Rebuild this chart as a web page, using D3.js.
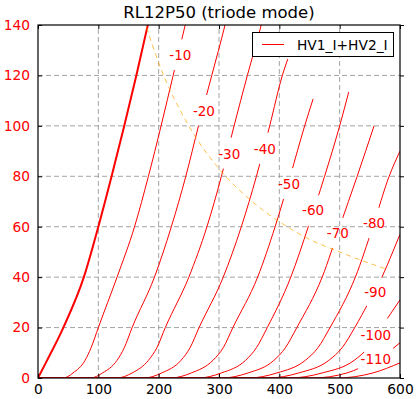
<!DOCTYPE html>
<html>
<head>
<meta charset="utf-8">
<script src="https://cdn.jsdelivr.net/npm/d3@7"></script>
<style>
body { margin: 0; background: #fff; }
text { font-family: "DejaVu Sans", sans-serif; }
</style>
</head>
<body>
<script>
// plate curves: [plate volts, plate mA]
var grids = [0, -10, -20, -30, -40, -50, -60, -70, -80, -90, -100, -110, -120];
var curveG0 = [[0,0],[14,6.5],[42,20],[76,40],[100,60],[122,80],[143,100],[163,120],[182,140],[190,148]];
var curveG10 = [[0,0],[42,0],[58,2],[78,7],[88,12],[100,20],[131,40],[160,60],[183,80],[204,100],[224,120],[244,140],[250,146]];
var curveG20 = [[0,0],[87,0],[107,2],[131,7],[143,12],[156,20],[193,40],[221,60],[245,80],[266,100],[288,120],[310,140],[316,146]];
var curveG30 = [[0,0],[131,0],[156,2],[183,7],[197,12],[211,20],[250,40],[280,60],[304,80],[325,100],[347,120],[370,140],[376,146]];
var curveG40 = [[0,0],[176,0],[205,2],[237,7],[252,12],[267,20],[307,40],[337,60],[362,80],[384,100],[405,120],[414,126.5]];
var curveG50 = [[0,0],[220,0],[254,2],[290,7],[307,12],[323,20],[364,40],[393,60],[418,80],[442,100],[456,110.7]];
var curveG60 = [[0,0],[266,0],[304,2],[344,7],[362,12],[380,20],[419,40],[448,60],[475,80],[500,100],[515,113.4]];
var curveG70 = [[0,0],[305,0],[348,2],[391,7],[410,12],[429,20],[471,40],[500,60],[529,80],[557,100]];
var curveG80 = [[0,0],[349,0],[396,2],[443,7],[464,12],[484,20],[526,40],[555,60],[582,80],[600,90]];
var curveG90 = [[0,0],[382,0],[432,2],[482,7],[504,12],[525,20],[548,30],[570,40],[588,50],[600,57]];
var curveG100 = [[0,0],[417,0],[471,2],[524,7],[547,12],[569,20],[600,31]];
var curveG110 = [[0,0],[455,0],[512,2],[557,7],[590,12],[600,14]];
var curveG120 = [[0,0],[495,0],[555,2],[600,6]];
var curves = [curveG0, curveG10, curveG20, curveG30, curveG40, curveG50, curveG60,
              curveG70, curveG80, curveG90, curveG100, curveG110, curveG120];

// where the grid-voltage labels sit on each curve
var labelText = ["-10", "-20", "-30", "-40", "-50", "-60", "-70", "-80", "-90", "-100", "-110"];
var labelVolts = [236, 275, 317, 376, 416, 456, 497, 557, 559, 560, 560];
var labelAmps = [128, 106, 89, 91, 77, 66.5, 57.5, 61.5, 34, 17, 7.5];

// 25 W dissipation line
var powerLine = [[180,139],[200,125],[250,100],[300,83],[350,71],[400,62],[450,55],[500,50],[540,46.3],[580,43]];

var xTicks = [0, 100, 200, 300, 400, 500, 600];
var yTicks = [0, 20, 40, 60, 80, 100, 120, 140];

var width = 416, height = 399;

var x = d3.scaleLinear().domain([0, 600]).range([38, 400]);
var y = d3.scaleLinear().domain([0, 140]).range([378, 25]);

var svg = d3.select("body").append("svg")
    .attr("width", width)
    .attr("height", height);

var defs = svg.append("defs");
defs.append("clipPath").attr("id", "plot")
  .append("rect")
    .attr("x", 38).attr("y", 25)
    .attr("width", 362).attr("height", 353);

// grid
var grid = svg.append("g")
    .attr("stroke", "#8c8c8c")
    .attr("stroke-width", 0.8)
    .attr("stroke-dasharray", "5,3");
grid.selectAll("line.v").data(xTicks.slice(1, -1)).enter().append("line")
    .attr("x1", function(d) { return x(d); }).attr("x2", function(d) { return x(d); })
    .attr("y1", y(0)).attr("y2", y(140));
grid.selectAll("line.h").data(yTicks.slice(1, -1)).enter().append("line")
    .attr("y1", function(d) { return y(d); }).attr("y2", function(d) { return y(d); })
    .attr("x1", x(0)).attr("x2", x(600));

var plot = svg.append("g").attr("clip-path", "url(#plot)");

var line = d3.line()
    .curve(d3.curveMonotoneX)
    .x(function(d) { return x(d[0]); })
    .y(function(d) { return y(d[1]); });

// labels first (to measure), raised on top later
var labels = svg.append("g")
    .attr("fill", "red")
    .attr("font-size", 13.5)
    .attr("text-anchor", "middle");
labels.selectAll("text").data(labelText).enter().append("text")
    .attr("x", function(d, i) { return x(labelVolts[i]); })
    .attr("y", function(d, i) { return y(labelAmps[i]) + 5; })
    .text(function(d) { return d; });

// one mask per labelled curve, cutting a gap round its label
labels.selectAll("text").each(function(d, i) {
  var w = this.getComputedTextLength();
  var m = defs.append("mask").attr("id", "gap" + (i + 1))
      .attr("maskUnits", "userSpaceOnUse")
      .attr("x", 0).attr("y", 0).attr("width", width).attr("height", height);
  m.append("rect").attr("width", width).attr("height", height).attr("fill", "white");
  m.append("circle")
      .attr("cx", x(labelVolts[i])).attr("cy", y(labelAmps[i]))
      .attr("r", w / 2 + 5).attr("fill", "black");
});

plot.selectAll("path.curve").data(curves).enter().append("path")
    .attr("class", "curve")
    .attr("d", line)
    .attr("fill", "none")
    .attr("stroke", "red")
    .attr("stroke-width", function(d, i) { return i == 0 ? 2 : 1; })
    .attr("mask", function(d, i) { return i > 0 && i <= labelText.length ? "url(#gap" + i + ")" : null; });

plot.append("path")
    .attr("d", line(powerLine))
    .attr("fill", "none")
    .attr("stroke", "#ffa500")
    .attr("stroke-opacity", 0.7)
    .attr("stroke-dasharray", "5,4");

labels.raise();

// axes
var yAxis = svg.append("g")
    .attr("transform", "translate(38,0)")
    .call(d3.axisLeft(y).tickValues(yTicks).tickSize(-4).tickPadding(8));
var yAxisR = svg.append("g")
    .attr("transform", "translate(400,0)")
    .call(d3.axisRight(y).tickValues(yTicks).tickSize(4).tickFormat(""));
var xAxis = svg.append("g")
    .attr("transform", "translate(0,378)")
    .call(d3.axisBottom(x).tickValues(xTicks).tickSize(-4).tickPadding(6));
var xAxisT = svg.append("g")
    .attr("transform", "translate(0,25)")
    .call(d3.axisTop(x).tickValues(xTicks).tickSize(-4).tickFormat(""));

svg.selectAll(".domain").remove();
svg.selectAll(".tick text")
    .attr("font-family", "DejaVu Sans, sans-serif")
    .attr("font-size", 13.8);
yAxis.selectAll(".tick text").attr("fill", "red");
xAxis.selectAll(".tick text").attr("fill", "black");
svg.selectAll(".tick line").attr("stroke", "black");

svg.append("rect")
    .attr("x", 38).attr("y", 25)
    .attr("width", 362).attr("height", 353)
    .attr("fill", "none")
    .attr("stroke", "black")
    .attr("stroke-width", 1.2);

svg.append("text")
    .attr("x", 219).attr("y", 18)
    .attr("text-anchor", "middle")
    .attr("font-size", 16.5)
    .text("RL12P50 (triode mode)");

// legend
var legend = svg.append("g");
legend.append("rect")
    .attr("x", 252.5).attr("y", 32.5)
    .attr("width", 141).attr("height", 24)
    .attr("fill", "white")
    .attr("stroke", "black");
legend.append("line")
    .attr("x1", 262).attr("x2", 284)
    .attr("y1", 44.5).attr("y2", 44.5)
    .attr("stroke", "red");
legend.append("text")
    .attr("x", 297).attr("y", 50)
    .attr("font-size", 13.8)
    .text("HV1_I+HV2_I");
</script>
</body>
</html>
